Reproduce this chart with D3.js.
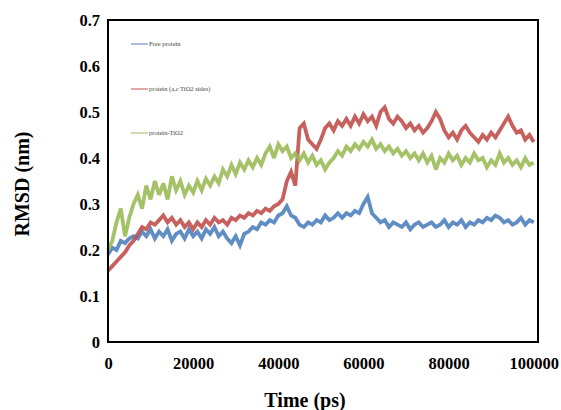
<!DOCTYPE html>
<html lang="en">
<head>
  <meta charset="UTF-8">
  <title>RMSD vs Time</title>
  <script src="https://d3js.org/d3.v7.min.js"></script>
  <style>
    body { margin: 0; background: #fff; }
    svg { display: block; }
    .tick text { font: bold 16.5px "Liberation Serif", "Times New Roman", serif; fill: #000; }
    .title { font: bold 20px "Liberation Serif", "Times New Roman", serif; fill: #000; }
    .legend text { font: 6.5px "Liberation Serif", serif; fill: #444; }
    .trace { fill: none; stroke-width: 3.8px; stroke-linejoin: miter; stroke-miterlimit: 3; }
  </style>
</head>
<body>
  <div id="chart"></div>
  <script>
    // sampled every 1000 ps, 0..100000
    const stepPs = 1000;
    const seriesNames = ['Free protein', 'protein (a,c TiO2 sides)', 'protein-TiO2'];
    const seriesColors = ['#4F81BD', '#C0504D', '#9BBB59'];

    const freeProtein = [
      0.19, 0.205, 0.20, 0.22, 0.215, 0.225, 0.23, 0.225, 0.24, 0.23,
      0.245, 0.225, 0.24, 0.23, 0.245, 0.22, 0.235, 0.24, 0.225, 0.245,
      0.23, 0.24, 0.225, 0.245, 0.235, 0.25, 0.23, 0.24, 0.225, 0.215,
      0.23, 0.21, 0.235, 0.24, 0.25, 0.245, 0.26, 0.255, 0.265, 0.26,
      0.275, 0.28, 0.295, 0.275, 0.27, 0.255, 0.25, 0.26, 0.255, 0.265,
      0.26, 0.275, 0.265, 0.27, 0.28, 0.27, 0.28, 0.275, 0.285, 0.28,
      0.30, 0.315, 0.28, 0.27, 0.26, 0.265, 0.25, 0.26, 0.255, 0.25,
      0.26, 0.245, 0.255, 0.26, 0.25, 0.255, 0.26, 0.25, 0.255, 0.265,
      0.25, 0.26, 0.255, 0.265, 0.25, 0.26, 0.255, 0.265, 0.26, 0.27,
      0.265, 0.275, 0.27, 0.26, 0.265, 0.255, 0.26, 0.27, 0.255, 0.265,
      0.26
    ];
    const proteinSides = [
      0.155, 0.165, 0.175, 0.185, 0.195, 0.21, 0.22, 0.235, 0.25, 0.245,
      0.26, 0.255, 0.265, 0.275, 0.26, 0.27, 0.255, 0.265, 0.25, 0.26,
      0.245, 0.26, 0.25, 0.265, 0.255, 0.27, 0.26, 0.265, 0.255, 0.27,
      0.265, 0.275, 0.27, 0.28, 0.275, 0.285, 0.28, 0.29, 0.285, 0.295,
      0.30, 0.31, 0.35, 0.37, 0.34, 0.465, 0.475, 0.44, 0.43, 0.42,
      0.44, 0.465, 0.475, 0.46, 0.48, 0.47, 0.485, 0.47, 0.49, 0.475,
      0.495, 0.48, 0.49, 0.47, 0.50, 0.51, 0.485, 0.475, 0.49, 0.48,
      0.465, 0.475, 0.46, 0.47, 0.455, 0.465, 0.48, 0.50, 0.485, 0.46,
      0.445, 0.455, 0.44, 0.46, 0.47, 0.455, 0.445, 0.435, 0.45, 0.44,
      0.455, 0.445, 0.46, 0.475, 0.49, 0.47, 0.455, 0.46, 0.44, 0.45,
      0.435
    ];
    const proteinTiO2 = [
      0.20, 0.22, 0.26, 0.29, 0.23, 0.27, 0.30, 0.32, 0.29, 0.34,
      0.31, 0.35, 0.32, 0.345, 0.31, 0.36, 0.33, 0.35, 0.32, 0.34,
      0.325, 0.35, 0.33, 0.355, 0.34, 0.36, 0.345, 0.375, 0.36, 0.385,
      0.365, 0.39, 0.375, 0.395, 0.38, 0.40, 0.385, 0.41, 0.425, 0.40,
      0.43, 0.415, 0.425, 0.40, 0.41, 0.395, 0.41, 0.39, 0.405, 0.385,
      0.395, 0.375, 0.39, 0.40, 0.415, 0.405, 0.425, 0.415, 0.43, 0.42,
      0.435, 0.425, 0.44, 0.42, 0.43, 0.415, 0.425, 0.41, 0.42, 0.405,
      0.415, 0.40, 0.41, 0.395, 0.41, 0.39, 0.405, 0.375, 0.40, 0.39,
      0.41, 0.395, 0.405, 0.385, 0.40, 0.39, 0.41, 0.395, 0.40, 0.38,
      0.395, 0.385, 0.41, 0.39, 0.40, 0.385, 0.395, 0.38, 0.40, 0.385,
      0.39
    ];
    const xTicks = [0, 20000, 40000, 60000, 80000, 100000];
    const yTicks = [0, 0.1, 0.2, 0.3, 0.4, 0.5, 0.6, 0.7];

    const W = 561, H = 410;
    const plot = { left: 108, right: 538, top: 20, bottom: 342 };

    const svg = d3.select('#chart').append('svg').attr('width', W).attr('height', H);

    const x = d3.scaleLinear().domain([0, 101000]).range([plot.left, plot.right]);
    const y = d3.scaleLinear().domain([0, 0.7]).range([plot.bottom, plot.top]);

    const line = d3.line().x((d, i) => x(i * stepPs)).y(d => y(d));

    [freeProtein, proteinSides, proteinTiO2].forEach((s, k) => {
      svg.append('path').attr('class', 'trace')
        .attr('stroke', seriesColors[k])
        .attr('stroke-opacity', 0.9)
        .attr('d', line(s));
    });

    // frame
    svg.append('rect')
      .attr('x', plot.left).attr('y', plot.top)
      .attr('width', plot.right - plot.left).attr('height', plot.bottom - plot.top)
      .attr('fill', 'none').attr('stroke', '#000').attr('stroke-width', 2);

    const xAxis = svg.append('g').attr('transform', `translate(0,${plot.bottom})`)
      .call(d3.axisBottom(x).tickValues(xTicks).tickSize(0).tickPadding(15).tickFormat(d3.format('d')));
    xAxis.select('.domain').remove();

    const yAxis = svg.append('g').attr('transform', `translate(${plot.left},0)`)
      .call(d3.axisLeft(y).tickValues(yTicks).tickSize(0).tickPadding(8)
        .tickFormat(d => d === 0 ? '0' : d.toFixed(1)));
    yAxis.select('.domain').remove();

    svg.append('text').attr('class', 'title')
      .attr('x', 305).attr('y', 407).attr('text-anchor', 'middle').text('Time (ps)');
    svg.append('text').attr('class', 'title')
      .attr('transform', 'translate(29,184) rotate(-90)')
      .attr('text-anchor', 'middle').text('RMSD (nm)');

    // legend
    const legY = [44, 89, 133];
    const leg = svg.append('g').attr('class', 'legend');
    seriesNames.forEach((name, k) => {
      leg.append('line')
        .attr('x1', 131).attr('x2', 148).attr('y1', legY[k]).attr('y2', legY[k])
        .attr('stroke', seriesColors[k]).attr('stroke-width', 1);
      leg.append('text')
        .attr('x', 149).attr('y', legY[k]).attr('dy', '0.32em').text(name);
    });
  </script>
</body>
</html>
